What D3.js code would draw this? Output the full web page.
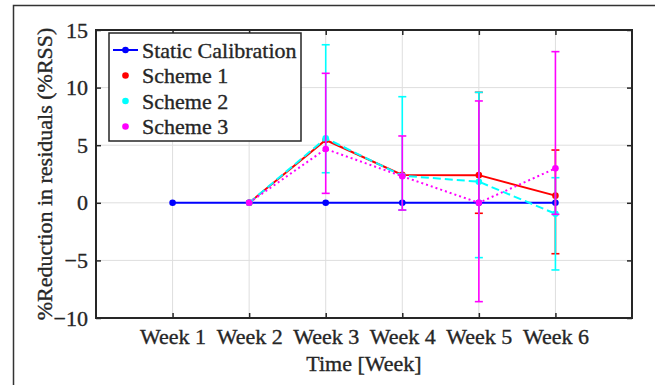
<!DOCTYPE html>
<html>
<head>
<meta charset="utf-8">
<script src="https://cdn.jsdelivr.net/npm/d3@7"></script>
<style>
  body { margin: 0; background: #fff; }
  svg text { font-family: 'Liberation Serif', 'Times New Roman', Times, 'DejaVu Serif', serif !important; stroke: #262626; stroke-width: 0.35px; }
</style>
</head>
<body>
<svg id="chart" width="655" height="385"></svg>
<script>
// categories
const weeks = ["Week 1", "Week 2", "Week 3", "Week 4", "Week 5", "Week 6"];
const yTicks = [-10, -5, 0, 5, 10, 15];

// series: week index (1-based), value, lower end, upper end of error bar
const staticWeeks = [1, 2, 3, 4, 5, 6];
const staticVals = [0, 0, 0, 0, 0, 0];

const s1Weeks = [2, 3, 4, 5, 6];
const s1Vals = [0, 5.45, 2.42, 2.4, 0.62];
const s1Err = [null, null, null, [-0.91, 9.59], [-4.42, 4.58]];

const s2Weeks = [2, 3, 4, 5, 6];
const s2Vals = [0, 5.6, 2.35, 1.83, -0.95];
const s2Err = [null, [2.61, 13.72], [-0.63, 9.21], [-4.76, 9.59], [-5.83, 2.18]];

const s3Weeks = [2, 3, 4, 5, 6];
const s3Vals = [0, 4.67, 2.3, 0, 2.99];
const s3Err = [null, [0.82, 11.24], [-0.63, 5.8], [-8.58, 8.84], [-1.0, 13.12]];

const axisColor = "#262626";
const serif = "'Liberation Serif', 'Times New Roman', 'DejaVu Serif', serif";
const svg = d3.select("#chart");

// outer frame (left + top edges)
svg.append("path")
    .attr("d", "M13.5,385V5.5H655")
    .attr("fill", "none")
    .attr("stroke", "#333")
    .attr("stroke-width", 1.5);

const margin = {left: 96, top: 30, right: 632, bottom: 318};

const x = d3.scaleLinear().domain([0, 7]).range([margin.left, margin.right]);
const y = d3.scaleLinear().domain([-10, 15]).range([margin.bottom, margin.top]);

// grid
const grid = svg.append("g");
grid.selectAll(".gx").data(d3.range(1, 7)).join("line")
    .attr("x1", d => x(d)).attr("x2", d => x(d))
    .attr("y1", margin.top).attr("y2", margin.bottom)
    .attr("stroke", "#dedede").attr("stroke-width", 1);
grid.selectAll(".gy").data(yTicks).join("line")
    .attr("x1", margin.left).attr("x2", margin.right)
    .attr("y1", d => y(d)).attr("y2", d => y(d))
    .attr("stroke", "#dedede").attr("stroke-width", 1);

// axes
const xAxis = d3.axisBottom(x).tickValues(d3.range(1, 7))
    .tickFormat(d => weeks[d - 1]).tickSizeInner(-5).tickSizeOuter(0).tickPadding(10);
const yAxis = d3.axisLeft(y).tickValues(yTicks).tickSizeInner(-5).tickSizeOuter(0).tickPadding(8);
const xTop = d3.axisTop(x).tickValues(d3.range(1, 7)).tickFormat("").tickSizeInner(-5).tickSizeOuter(0);
const yRight = d3.axisRight(y).tickValues(yTicks).tickFormat("").tickSizeInner(-5).tickSizeOuter(0);

function styleAxis(g) {
    g.attr("font-family", serif).attr("font-size", 22);
    g.select(".domain").remove();
    g.selectAll("line").attr("stroke", axisColor).attr("stroke-width", 1.5);
    g.selectAll("text").attr("fill", axisColor);
}

svg.append("g").attr("transform", `translate(0,${margin.bottom})`).call(xAxis).call(styleAxis);
svg.append("g").attr("transform", `translate(${margin.left},0)`).call(yAxis).call(styleAxis);
svg.append("g").attr("transform", `translate(0,${margin.top})`).call(xTop).call(styleAxis);
svg.append("g").attr("transform", `translate(${margin.right},0)`).call(yRight).call(styleAxis);

const plot = svg.append("g");

function drawSeries(wk, vals, errs, color, dash) {
    const pts = wk.map((w, i) => ({w, v: vals[i], e: errs ? errs[i] : null}));
    const line = d3.line().x(d => x(d.w)).y(d => y(d.v));
    // error bars
    pts.filter(d => d.e).forEach(d => {
        const g = plot.append("g").attr("stroke", color).attr("stroke-width", 1.6);
        g.append("line").attr("x1", x(d.w)).attr("x2", x(d.w)).attr("y1", y(d.e[0])).attr("y2", y(d.e[1]));
        g.append("line").attr("x1", x(d.w) - 4).attr("x2", x(d.w) + 4).attr("y1", y(d.e[0])).attr("y2", y(d.e[0]));
        g.append("line").attr("x1", x(d.w) - 4).attr("x2", x(d.w) + 4).attr("y1", y(d.e[1])).attr("y2", y(d.e[1]));
    });
    plot.append("path").datum(pts)
        .attr("d", line)
        .attr("fill", "none")
        .attr("stroke", color)
        .attr("stroke-width", 2)
        .attr("stroke-dasharray", dash);
    plot.selectAll(null).data(pts).join("circle")
        .attr("cx", d => x(d.w)).attr("cy", d => y(d.v))
        .attr("r", 3.3).attr("fill", color);
}

drawSeries(staticWeeks, staticVals, null, "#0000ff", null);
drawSeries(s1Weeks, s1Vals, s1Err, "#ff0000", null);
drawSeries(s2Weeks, s2Vals, s2Err, "#00ffff", "8,4");
drawSeries(s3Weeks, s3Vals, s3Err, "#ff00ff", "2,3");

// plot box
svg.append("rect")
    .attr("x", margin.left).attr("y", margin.top)
    .attr("width", margin.right - margin.left).attr("height", margin.bottom - margin.top)
    .attr("fill", "none").attr("stroke", axisColor).attr("stroke-width", 2);

// axis titles
svg.append("text")
    .attr("x", (margin.left + margin.right) / 2).attr("y", 371)
    .attr("text-anchor", "middle").attr("fill", axisColor)
    .attr("font-family", serif).attr("font-size", 22).text("Time [Week]");
svg.append("text")
    .attr("transform", `translate(52,${(margin.top + margin.bottom) / 2}) rotate(-90)`)
    .attr("text-anchor", "middle").attr("fill", axisColor)
    .attr("font-family", serif).attr("font-size", 22).text("%Reduction in residuals (%RSS)");

// legend
const legendNames = ["Static Calibration", "Scheme 1", "Scheme 2", "Scheme 3"];
const legendColors = ["#0000ff", "#ff0000", "#00ffff", "#ff00ff"];
const legend = svg.append("g").attr("transform", "translate(109,33)");
legend.append("rect").attr("width", 192).attr("height", 108)
    .attr("fill", "#fff").attr("stroke", axisColor).attr("stroke-width", 1.5);
legendNames.forEach((name, i) => {
    const cy = 17 + i * 25.5;
    if (i === 0) {
        legend.append("line").attr("x1", 4).attr("x2", 29).attr("y1", cy).attr("y2", cy)
            .attr("stroke", legendColors[i]).attr("stroke-width", 2);
    }
    legend.append("circle").attr("cx", 16.5).attr("cy", cy).attr("r", 3.3).attr("fill", legendColors[i]);
    legend.append("text").attr("x", 33).attr("y", cy + 7.5)
        .attr("fill", axisColor).attr("font-family", serif).attr("font-size", 22).text(name);
});
</script>
</body>
</html>
